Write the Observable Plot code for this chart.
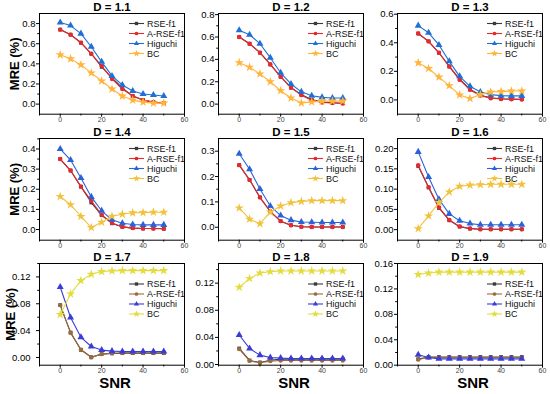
<!DOCTYPE html>
<html>
<head>
<meta charset="utf-8">
<script src="https://cdn.jsdelivr.net/npm/d3@7"></script>
<script src="https://cdn.jsdelivr.net/npm/@observablehq/plot@0.6"></script>
<style>
  html, body { margin: 0; padding: 0; background: #fff; }
  #chart { position: relative; width: 550px; height: 394px; background: #fff; overflow: hidden; }
  #chart svg { position: absolute; }
</style>
</head>
<body>
<div id="chart"></div>
<script>
// ---------- data ----------
const snr = [0, 5, 10, 15, 20, 25, 30, 35, 40, 45, 50];
const panelTitles = ["D = 1.1", "D = 1.2", "D = 1.3", "D = 1.4", "D = 1.5", "D = 1.6", "D = 1.7", "D = 1.8", "D = 1.9"];
const seriesNames = ["RSE-f1", "A-RSE-f1", "Higuchi", "BC"];
const yAxisLabel = "MRE (%)";
const xAxisLabel = "SNR";
const xTicks = [0, 20, 40, 60];
const xMinorTicks = [-10, 10, 30, 50];

const rseF1 = [
  [0.74, 0.69, 0.61, 0.50, 0.37, 0.26, 0.16, 0.08, 0.04, 0.02, 0.01],
  [0.60, 0.54, 0.46, 0.355, 0.245, 0.15, 0.085, 0.04, 0.018, 0.012, 0.008],
  [0.465, 0.41, 0.33, 0.235, 0.145, 0.075, 0.033, 0.015, 0.008, 0.006, 0.005],
  [0.35, 0.293, 0.213, 0.134, 0.071, 0.031, 0.013, 0.007, 0.005, 0.005, 0.004],
  [0.245, 0.187, 0.118, 0.062, 0.024, 0.008, 0.002, 0.001, 0.001, 0.001, 0.001],
  [0.157, 0.104, 0.0535, 0.023, 0.0074, 0.0025, 0.001, 0.001, 0.001, 0.001, 0.001],
  [0.078, 0.037, 0.0114, 0.0003, 0.005, 0.006, 0.0064, 0.0064, 0.0064, 0.0064, 0.0064],
  [0.0237, 0.006, 0.003, 0.0064, 0.0079, 0.0079, 0.0079, 0.0079, 0.0079, 0.0079, 0.0079],
  [0.0095, 0.013, 0.013, 0.013, 0.013, 0.013, 0.013, 0.013, 0.013, 0.013, 0.013]
];
const aRseF1 = [
  [0.74, 0.69, 0.61, 0.50, 0.38, 0.25, 0.15, 0.08, 0.04, 0.02, 0.01],
  [0.60, 0.54, 0.46, 0.355, 0.245, 0.145, 0.08, 0.035, 0.015, 0.01, 0.005],
  [0.465, 0.41, 0.33, 0.233, 0.14, 0.07, 0.03, 0.012, 0.006, 0.004, 0.003],
  [0.35, 0.293, 0.213, 0.142, 0.073, 0.032, 0.013, 0.007, 0.005, 0.005, 0.004],
  [0.245, 0.187, 0.118, 0.062, 0.024, 0.008, 0.002, 0.001, 0.001, 0.001, 0.001],
  [0.159, 0.105, 0.055, 0.024, 0.008, 0.003, 0.001, 0.001, 0.001, 0.001, 0.001],
  [0.078, 0.037, 0.0114, 0.0003, 0.005, 0.0064, 0.007, 0.007, 0.007, 0.007, 0.007],
  [0.0227, 0.0054, 0.0025, 0.005, 0.006, 0.006, 0.006, 0.006, 0.006, 0.006, 0.006],
  [0.009, 0.012, 0.012, 0.012, 0.012, 0.012, 0.012, 0.012, 0.012, 0.012, 0.012]
];
const higuchi = [
  [0.81, 0.78, 0.70, 0.57, 0.42, 0.28, 0.19, 0.13, 0.10, 0.09, 0.08],
  [0.66, 0.62, 0.54, 0.415, 0.28, 0.18, 0.11, 0.075, 0.06, 0.055, 0.055],
  [0.52, 0.47, 0.385, 0.27, 0.165, 0.095, 0.055, 0.037, 0.03, 0.028, 0.028],
  [0.40, 0.345, 0.256, 0.162, 0.093, 0.048, 0.031, 0.025, 0.023, 0.023, 0.023],
  [0.29, 0.229, 0.151, 0.084, 0.046, 0.028, 0.021, 0.02, 0.019, 0.019, 0.019],
  [0.192, 0.13, 0.075, 0.039, 0.022, 0.015, 0.012, 0.012, 0.012, 0.012, 0.012],
  [0.105, 0.0595, 0.030, 0.0164, 0.011, 0.0094, 0.009, 0.009, 0.009, 0.009, 0.009],
  [0.0435, 0.0237, 0.0138, 0.0104, 0.0094, 0.0089, 0.0089, 0.0089, 0.0089, 0.0089, 0.0089],
  [0.0163, 0.012, 0.01, 0.01, 0.01, 0.01, 0.01, 0.01, 0.01, 0.01, 0.01]
];
const bc = [
  [0.49, 0.45, 0.39, 0.31, 0.23, 0.15, 0.08, 0.04, 0.02, 0.01, 0.01],
  [0.37, 0.33, 0.27, 0.20, 0.12, 0.055, 0.01, 0.02, 0.027, 0.027, 0.027],
  [0.26, 0.22, 0.16, 0.10, 0.035, 0.01, 0.037, 0.055, 0.058, 0.062, 0.062],
  [0.164, 0.123, 0.065, 0.01, 0.036, 0.066, 0.076, 0.083, 0.084, 0.086, 0.086],
  [0.076, 0.032, 0.014, 0.06, 0.084, 0.097, 0.102, 0.105, 0.105, 0.105, 0.105],
  [0.0025, 0.034, 0.067, 0.093, 0.107, 0.110, 0.111, 0.112, 0.112, 0.112, 0.112],
  [0.064, 0.0947, 0.1145, 0.124, 0.128, 0.129, 0.1294, 0.1294, 0.1294, 0.1294, 0.1294],
  [0.114, 0.127, 0.135, 0.137, 0.138, 0.138, 0.138, 0.138, 0.138, 0.138, 0.138],
  [0.1427, 0.145, 0.1465, 0.1465, 0.1465, 0.1465, 0.1465, 0.1465, 0.1465, 0.1465, 0.1465]
];
const yTicks = [
  [0, 0.2, 0.4, 0.6, 0.8],
  [0, 0.2, 0.4, 0.6, 0.8],
  [0, 0.2, 0.4, 0.6],
  [0, 0.1, 0.2, 0.3, 0.4],
  [0, 0.1, 0.2, 0.3],
  [0, 0.05, 0.10, 0.15, 0.20],
  [0, 0.04, 0.08, 0.12],
  [0, 0.04, 0.08, 0.12],
  [0, 0.04, 0.08, 0.12, 0.16]
];
const yDecimals = [1, 1, 1, 1, 1, 2, 2, 2, 2];
const yDomains = [
  [-0.1, 0.9], [-0.09, 0.81], [-0.1, 0.605],
  [-0.053, 0.452], [-0.051, 0.35], [-0.026, 0.225],
  [-0.0115, 0.14], [-0.001, 0.149], [0, 0.16]
];

// ---------- styling / layout ----------
const FONT = "'Liberation Sans', Arial, sans-serif";
const rowColors = [
  ["#3a3a3a", "#e8282c", "#1f6fd6", "#ffb43a"],
  ["#3a3a3a", "#e8282c", "#2a62d8", "#f2c23e"],
  ["#3a3a3a", "#9b6b3e", "#3b3bd6", "#e2dc3c"]
];
const symbolNames = ["square", "circle", "triangle", "star"];
const d3Symbols = [d3.symbolSquare, d3.symbolCircle, d3.symbolTriangle, d3.symbolStar];
const dotR = [2.1, 2.2, 2.6, 2.9];
const frameLefts = [39.2, 217.6, 396.6];
const frameTops = [13.3, 138.3, 263.3];
const frameBottoms = [114, 240, 365];
const frameW = 145;
const mL = 40, mR = 8, mT = 14, mB = 28;
const legendTop = [10.5, 10.5, 21];
const yTickPad = [1, 1, 1, 1, 1, 1, 6, 1.5, 1.5];
const yLabelDx = [-24.5, -24.5, -28.5];

const chart = document.getElementById("chart");
const seriesData = [rseF1, aRseF1, higuchi, bc];

function legendMark(colors, topOffset) {
  return (...args) => {
    const dim = args.find(a => a && typeof a === "object" && "marginTop" in a && "width" in a);
    const g = d3.create("svg:g");
    const R = dim.width - dim.marginRight;
    seriesNames.forEach((name, k) => {
      const y = dim.marginTop + topOffset + k * 10;
      g.append("line").attr("x1", R - 55).attr("x2", R - 40).attr("y1", y).attr("y2", y)
        .attr("stroke", colors[k]).attr("stroke-width", 1.1);
      g.append("path").attr("d", d3.symbol(d3Symbols[k], k === 3 ? 16 : 11)())
        .attr("transform", `translate(${R - 47.5},${y})`).attr("fill", colors[k]);
      g.append("text").attr("x", R - 37).attr("y", y).attr("dy", "0.36em")
        .attr("text-anchor", "start")
        .attr("font-size", 9).attr("font-family", FONT).attr("fill", "#111").text(name);
    });
    return g.node();
  };
}

for (let i = 0; i < 9; i++) {
  const r = Math.floor(i / 3), c = i % 3;
  const colors = rowColors[r];
  const frameH = frameBottoms[r] - frameTops[r];
  const width = mL + frameW + mR;
  const height = mT + frameH + mB;
  const ticks = yTicks[i];
  const step = ticks[1] - ticks[0];
  const minor = ticks.map(t => t + step / 2).filter(t => t < yDomains[i][1]);

  const marks = [];
  for (const k of [0, 1, 2, 3]) {
    const data = snr.map((x, j) => ({x, y: seriesData[k][i][j]}));
    marks.push(Plot.line(data, {x: "x", y: "y", stroke: colors[k], strokeWidth: 1.1}));
    marks.push(Plot.dot(data, {x: "x", y: "y", symbol: symbolNames[k], r: dotR[k], fill: colors[k], stroke: "none"}));
  }
  marks.push(Plot.frame({stroke: "#000", strokeWidth: 1}));
  marks.push(Plot.axisY({ticks, tickSize: 3, tickPadding: yTickPad[i], tickFormat: d3.format(`.${yDecimals[i]}f`),
    fontSize: 9.5, fill: "#000", stroke: "#000", label: null}));
  marks.push(Plot.axisY({ticks: minor, tickSize: 1.8, tickFormat: () => "", stroke: "#000", label: null}));
  marks.push(Plot.axisX({ticks: xTicks, tickSize: 3, tickPadding: 0, fontSize: 7, fill: "#444", stroke: "#000", label: null}));
  marks.push(Plot.axisX({ticks: xMinorTicks, tickSize: 1.8, tickFormat: () => "", stroke: "#000", label: null}));
  marks.push(Plot.text([panelTitles[i]], {text: d => d, frameAnchor: "top", lineAnchor: "middle", textAnchor: "middle",
    dy: -6.5, fontSize: 11.5, fontWeight: "bold", fill: "#000"}));
  if (c === 0) {
    marks.push(Plot.text([yAxisLabel], {text: d => d, frameAnchor: "left", lineAnchor: "middle", textAnchor: "middle",
      dx: yLabelDx[r], rotate: -90, fontSize: 13, fontWeight: "bold", fill: "#000"}));
  }
  if (r === 2) {
    marks.push(Plot.text([xAxisLabel], {text: d => d, frameAnchor: "bottom", lineAnchor: "middle", textAnchor: "middle",
      dy: 17.5, dx: 3, fontSize: 15, fontWeight: "bold", fill: "#000"}));
  }
  marks.push(legendMark(colors, legendTop[r]));

  const svg = Plot.plot({
    width, height,
    marginLeft: mL, marginRight: mR, marginTop: mT, marginBottom: mB,
    style: {fontFamily: FONT, background: "transparent", overflow: "visible"},
    x: {domain: [-10, 60], axis: null},
    y: {domain: yDomains[i], axis: null},
    marks
  });
  svg.style.left = (frameLefts[c] - mL) + "px";
  svg.style.top = (frameTops[r] - mT) + "px";
  chart.appendChild(svg);
}
</script>
</body>
</html>
